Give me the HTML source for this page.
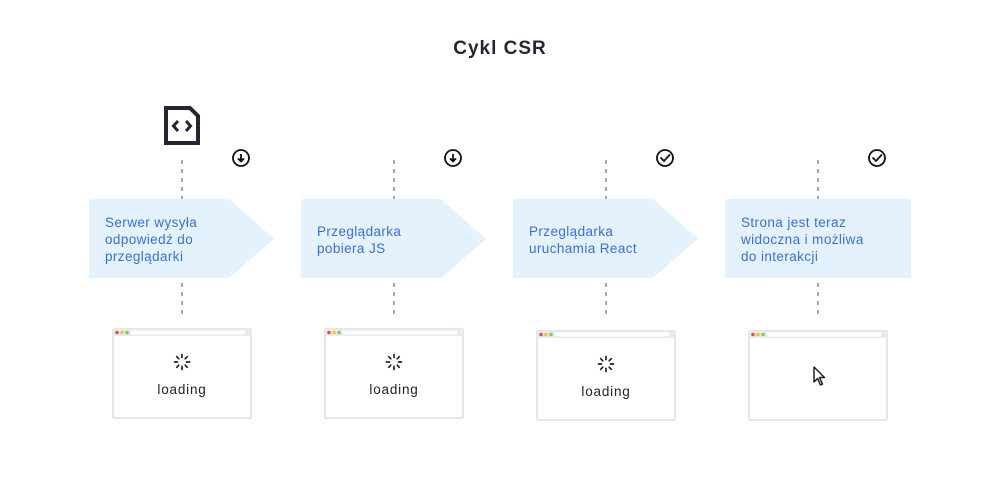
<!DOCTYPE html>
<html><head><meta charset="utf-8"><style>
html,body{margin:0;padding:0;background:#fff;}
svg{display:block;font-family:"Liberation Sans",sans-serif;}
</style></head><body>
<svg width="1000" height="494" viewBox="0 0 1000 494" xmlns="http://www.w3.org/2000/svg">
<defs>
<g id="spin" stroke="#222" stroke-width="1.7" stroke-linecap="round">
<line x1="0" y1="-7.5" x2="0" y2="-4.5"/>
<line x1="5.3" y1="-5.3" x2="3.2" y2="-3.2"/>
<line x1="7.5" y1="0" x2="4.5" y2="0"/>
<line x1="5.3" y1="5.3" x2="3.2" y2="3.2"/>
<line x1="0" y1="7.5" x2="0" y2="4.5"/>
<line x1="-5.3" y1="5.3" x2="-3.2" y2="3.2"/>
<line x1="-7.5" y1="0" x2="-4.5" y2="0"/>
<line x1="-5.3" y1="-5.3" x2="-3.2" y2="-3.2"/>
</g>
<g id="win">
<rect x="1" y="1" width="138" height="89" fill="#fff" stroke="#e4e6ee" stroke-width="2" rx="1"/>
<rect x="1" y="1" width="138" height="7" fill="#e8eaf1"/>
<rect x="19" y="2.5" width="114" height="4" fill="#fff"/>
<circle cx="5" cy="4.5" r="1.8" fill="#e0533f"/>
<circle cx="10" cy="4.5" r="1.8" fill="#f2c230"/>
<circle cx="15" cy="4.5" r="1.8" fill="#8cc84b"/>
</g>
<g id="down" fill="none" stroke="#111" stroke-width="1.8">
<circle cx="0" cy="0" r="8"/>
<line x1="0" y1="-4" x2="0" y2="3"/>
<path d="M-3 0.5 L0 3.5 L3 0.5" fill="#111"/>
</g>
<g id="check" fill="none" stroke="#111" stroke-width="1.8">
<circle cx="0" cy="0" r="8"/>
<path d="M-4 0 L-1 3 L4.5 -3" stroke-linecap="round"/>
</g>
</defs>
<text x="500" y="54" text-anchor="middle" font-size="19" font-weight="bold" fill="#232634" letter-spacing="1">Cykl CSR</text>

<path d="M166 108 H190 L198 116 V143 H166 Z" fill="none" stroke="#232634" stroke-width="4"/>
<path d="M178 121 L173.5 126 L178 131 M186 121 L190.5 126 L186 131" fill="none" stroke="#232634" stroke-width="3"/>

<g stroke="#555" stroke-width="1" stroke-dasharray="4,5">
<line x1="182" y1="160" x2="182" y2="199"/><line x1="182" y1="283" x2="182" y2="318"/>
<line x1="394" y1="160" x2="394" y2="199"/><line x1="394" y1="283" x2="394" y2="318"/>
<line x1="606" y1="160" x2="606" y2="199"/><line x1="606" y1="283" x2="606" y2="318"/>
<line x1="818" y1="160" x2="818" y2="199"/><line x1="818" y1="283" x2="818" y2="318"/>
</g>

<use href="#down" x="241" y="158"/>
<use href="#down" x="453" y="158"/>
<use href="#check" x="665" y="158"/>
<use href="#check" x="877" y="158"/>

<g fill="#e3f2fd">
<path d="M91 199 H229 L274 239 L229 278 H91 Q89 278 89 276 V201 Q89 199 91 199 Z"/>
<path d="M303 199 H441 L486 239 L441 278 H303 Q301 278 301 276 V201 Q301 199 303 199 Z"/>
<path d="M515 199 H653 L698 239 L653 278 H515 Q513 278 513 276 V201 Q513 199 515 199 Z"/>
<rect x="725" y="199" width="186" height="79" rx="2"/>
</g>
<g font-size="13.5" fill="#3a6fd8" letter-spacing="0.4">
<text x="105" y="227">Serwer wysyła</text>
<text x="105" y="244">odpowiedź do</text>
<text x="105" y="261">przeglądarki</text>
<text x="317" y="236">Przeglądarka</text>
<text x="317" y="253">pobiera JS</text>
<text x="529" y="236">Przeglądarka</text>
<text x="529" y="253">uruchamia React</text>
<text x="741" y="227">Strona jest teraz</text>
<text x="741" y="244">widoczna i możliwa</text>
<text x="741" y="261">do interakcji</text>
</g>

<use href="#win" x="112" y="328"/>
<use href="#win" x="324" y="328"/>
<use href="#win" x="536" y="330"/>
<use href="#win" x="748" y="330"/>

<use href="#spin" x="182" y="362"/>
<use href="#spin" x="394" y="362"/>
<use href="#spin" x="606" y="364"/>
<g font-size="13.5" fill="#222" text-anchor="middle" letter-spacing="0.8">
<text x="182" y="394">loading</text>
<text x="394" y="394">loading</text>
<text x="606" y="396">loading</text>
</g>
<path d="M814 367 L814 382 L817.5 378.5 L820.5 385 L822.5 384 L819.5 377.5 L824.5 377.5 Z" fill="#fff" stroke="#222" stroke-width="1.5" stroke-linejoin="round"/>
</svg>
</body></html>
